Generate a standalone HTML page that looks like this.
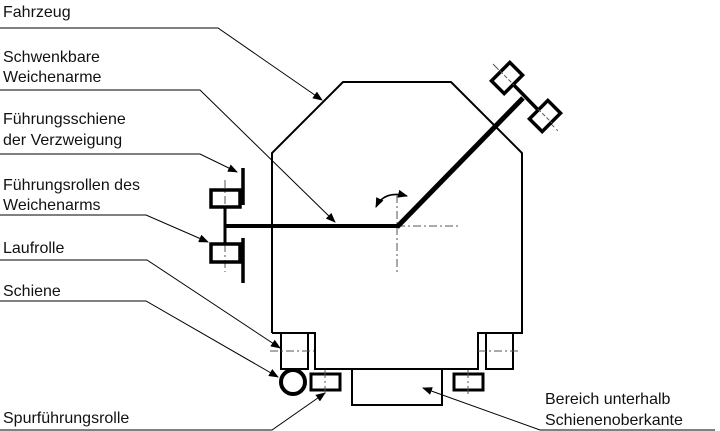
<!DOCTYPE html>
<html><head><meta charset="utf-8"><style>
html,body{margin:0;padding:0;background:#fff;}
svg{display:block;}
text{font-family:"Liberation Sans",Arial,sans-serif;font-size:16px;fill:#111;}
</style></head><body>
<svg width="720" height="431" viewBox="0 0 720 431" xmlns="http://www.w3.org/2000/svg">
<defs>
<marker id="a" markerWidth="10" markerHeight="8" refX="9" refY="4" orient="auto" markerUnits="userSpaceOnUse">
<path d="M0,0 L10,4 L0,8 Z" fill="#000"/>
</marker>
</defs>
<!-- labels -->
<text x="3" y="17">Fahrzeug</text>
<text x="3" y="62">Schwenkbare</text>
<text x="3" y="82">Weichenarme</text>
<text x="3" y="124">Führungsschiene</text>
<text x="3" y="145">der Verzweigung</text>
<text x="3" y="190">Führungsrollen des</text>
<text x="3" y="210">Weichenarms</text>
<text x="3" y="253">Laufrolle</text>
<text x="3" y="296">Schiene</text>
<text x="3" y="423">Spurführungsrolle</text>
<text x="545" y="404">Bereich unterhalb</text>
<text x="545" y="425">Schienenoberkante</text>
<!-- leaders -->
<g fill="none" stroke="#000" stroke-width="1">
<polyline points="0,28 218,28 322,100" marker-end="url(#a)"/>
<polyline points="0,90 200,90 335,222" marker-end="url(#a)"/>
<polyline points="0,154 200,154 237,172" marker-end="url(#a)"/>
<polyline points="0,215 146,215 208,242" marker-end="url(#a)"/>
<polyline points="0,260 147,260 280,348" marker-end="url(#a)"/>
<polyline points="0,301 146,301 278,377" marker-end="url(#a)"/>
<polyline points="0,430 272,430 325,393" marker-end="url(#a)"/>
<polyline points="715,430 540,430 423,388" marker-end="url(#a)"/>
</g>
<!-- body -->
<g fill="none" stroke="#000" stroke-width="2">
<polyline points="272,333 272,153 343,82 451,82 522,153 522,333 478,333 478,369 442,369 442,405 352,405 352,369 315,369 315,333 272,333"/>
<rect x="281" y="333" width="27" height="36"/>
<rect x="486" y="333" width="27" height="36"/>
<rect x="352" y="369" width="90" height="36"/>
</g>
<g fill="none" stroke="#000" stroke-width="3">
<rect x="311" y="374" width="29" height="16"/>
<rect x="454" y="374" width="29" height="16"/>
<circle cx="293" cy="382" r="12" stroke-width="4"/>
</g>
<!-- dash-dot center lines -->
<g stroke="#555" stroke-width="1" stroke-dasharray="8,3,2,3" fill="none">
<line x1="270" y1="351" x2="314" y2="351"/>
<line x1="478" y1="351" x2="520" y2="351"/>
<line x1="325" y1="370" x2="325" y2="394"/>
<line x1="468" y1="370" x2="468" y2="394"/>
<line x1="225" y1="180" x2="225" y2="272"/>
<line x1="397" y1="195" x2="397" y2="272"/>
<line x1="397" y1="226" x2="458" y2="226"/>
<line x1="493" y1="64" x2="558" y2="131"/>
</g>
<!-- arms -->
<g fill="none" stroke="#000" stroke-linecap="butt">
<line x1="225" y1="226" x2="398" y2="226" stroke-width="4"/>
<line x1="397" y1="227" x2="523" y2="98" stroke-width="5"/>
<line x1="225" y1="207" x2="225" y2="244" stroke-width="3"/>
<rect x="211" y="190" width="29" height="17" stroke-width="3.5"/>
<rect x="211" y="244" width="29" height="18" stroke-width="3.5"/>
<line x1="243" y1="168" x2="243" y2="205" stroke-width="3.5"/>
<line x1="243" y1="238" x2="243" y2="283" stroke-width="3.5"/>
<line x1="507" y1="78" x2="545" y2="117" stroke-width="3.5"/>
<rect x="-13" y="-9" width="26" height="18" stroke-width="3.5" fill="#fff" transform="translate(507,78) rotate(-45)"/>
<rect x="-13" y="-9" width="26" height="18" stroke-width="3.5" fill="#fff" transform="translate(545,116) rotate(-45)"/>
</g>
<g stroke="#555" stroke-width="1" stroke-dasharray="4,2" fill="none">
<line x1="500" y1="71" x2="514" y2="85"/>
<line x1="538" y1="109" x2="552" y2="123"/>
</g>
<!-- curved arrow -->
<path d="M376,207 Q384,190 407,196" fill="none" stroke="#000" stroke-width="1.5" marker-start="url(#b)" marker-end="url(#a)"/>
<defs><marker id="b" markerWidth="10" markerHeight="8" refX="1" refY="4" orient="auto" markerUnits="userSpaceOnUse"><path d="M10,0 L0,4 L10,8 Z" fill="#000"/></marker></defs>
</svg>
</body></html>
